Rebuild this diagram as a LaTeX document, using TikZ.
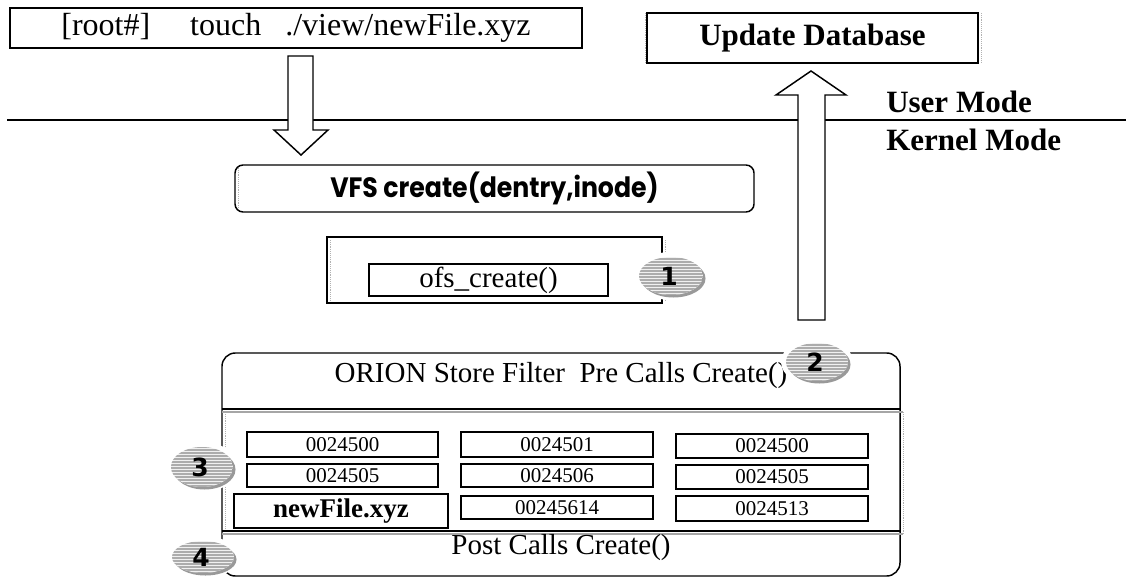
\documentclass[tikz,border=0pt]{standalone}
\usepackage{fontspec}
\setmainfont{Liberation Serif}
\newfontfamily\badgefont{DejaVu Sans}
\newfontfamily\gothicfont{Poppins}
\usetikzlibrary{fit}
\newcommand\px[1]{\fontsize{\fpeval{#1*0.75}pt}{\fpeval{#1*0.9}pt}\selectfont}
\newcommand\mybadge[6]{%
  \fill[white] (#2,#3) ellipse [x radius=#4+5, y radius=#5+5];
  \fill[gray!80] (#2+2.5,#3+2.5) ellipse [x radius=#4, y radius=#5];
  \begin{scope}
    \clip (#2,#3) ellipse [x radius=#4, y radius=#5];
    \fill[gray!12] (#2-#4,#3-#5) rectangle (#2+#4,#3+#5);
    \foreach \k in {-20,-17,...,20} {\draw[gray!65, line width=1.1pt] (#2-#4,#3+\k) -- (#2+#4,#3+\k);}
  \end{scope}
  \node[font=\badgefont\bfseries\px{25}, inner sep=0pt] (#1) at (#2-2,#3) {#6};
}
\begin{document}
\begin{tikzpicture}[x=0.75pt,y=-0.75pt,
  box/.style={draw, line width=1.1pt, inner sep=0pt},
  txt/.style={inner sep=0pt},
  celltxt/.style={inner sep=0pt, font=\px{21}},
  blockarrow/.style={draw, line width=1.1pt, fill=white, line join=miter}]
\useasboundingbox (0,0) rectangle (1126,577);

% mode separator
\draw[line width=1pt] (7,120) -- (1126,120);
\node[anchor=west, font=\bfseries\px{31}, txt] (user) at (886,102) {User Mode};
\node[anchor=west, font=\bfseries\px{31}, txt] (kernel) at (886,140) {Kernel Mode};

% command box
\node[box, fit={(10,8) (582,48)}] (cmd) {};
\node[txt, font=\px{32}] (cmdt) at (cmd.center) {[root\#]\ \ \ \ \ touch\ \ \ ./view/newFile.xyz};
% update database
\draw[gray!60, densely dotted] (645,13) -- (645,63) (981,13) -- (981,63);
\node[box, fit={(647,13) (978,63)}] (upd) {};
\node[txt, font=\bfseries\px{31}] (updt) at (upd.center) {Update Database};

% VFS box
\draw[gray!60, densely dotted] (238,168) -- (238,208);
\node[box, rounded corners=6pt, fit={(235,165) (754,212)}] (vfs) {};
\node[txt, font=\gothicfont\bfseries\px{28}] (vfst) at (vfs.center) {\scalebox{0.9}[1]{VFS create(dentry,inode)}};

% ofs box
\draw[gray!60, densely dotted] (330,240) -- (330,300) (665,240) -- (665,300);
\node[box, fit={(327,237) (662,303)}] (ofsouter) {};
\node[box, fit={(369,264) (608,296)}] (ofs) {};
\node[txt, font=\px{29}] (ofst) at (ofs.center) {ofs\_create()};

% down arrow
\draw[blockarrow] (288,56) -- (313,56) -- (313,130) -- (328,130) -- (301,155) -- (274,130) -- (288,130) -- cycle;
% up arrow
\draw[blockarrow] (798,320) -- (798,95) -- (776,95) -- (811,71) -- (846,95) -- (825,95) -- (825,320) -- cycle;

% ORION box
\node[box, rounded corners=10pt, fit={(222,353) (900,576)}] (orion) {};
\node[txt, font=\px{29}] (pre) at (561,376) {ORION Store Filter\ \ Pre Calls Create()};
\draw[line width=1.1pt] (222,409) -- (900,409);
\draw[gray!70, line width=0.8pt] (222,412) -- (903,412);
\draw[gray!60, densely dotted] (225,414) -- (225,530) (903,412) -- (903,534);
\draw[line width=1.1pt] (222,531) -- (900,531);
\draw[gray!70, line width=0.8pt] (222,534) -- (903,534);
\node[txt, font=\px{29}] (post) at (561,548) {Post Calls Create()};

% grid cells
\node[box, fit={(247,432) (438,457)}] (c11) {};
\node[celltxt] at (c11.center) (c11t) {0024500};
\node[box, fit={(247,464) (438,487)}] (c21) {};
\node[celltxt] at (c21.center) (c21t) {0024505};
\node[box, fit={(234,494) (448,528)}] (c31) {};
\node[txt, font=\bfseries\px{27}] at (c31.center) (c31t) {newFile.xyz};
\node[box, fit={(461,432) (653,457)}] (c12) {};
\node[celltxt] at (c12.center) (c12t) {0024501};
\node[box, fit={(461,464) (653,487)}] (c22) {};
\node[celltxt] at (c22.center) (c22t) {0024506};
\node[box, fit={(461,496) (653,519)}] (c32) {};
\node[celltxt] at (c32.center) (c32t) {00245614};
\node[box, fit={(676,434) (868,458)}] (c13) {};
\node[celltxt] at (c13.center) (c13t) {0024500};
\node[box, fit={(676,465) (868,489)}] (c23) {};
\node[celltxt] at (c23.center) (c23t) {0024505};
\node[box, fit={(676,496) (868,521)}] (c33) {};
\node[celltxt] at (c33.center) (c33t) {0024513};

% badges
\mybadge{b1}{671}{276}{32}{19}{1}
\mybadge{b2}{817}{362}{31}{19}{2}
\mybadge{b3}{202}{467}{31}{20}{3}
\mybadge{b4}{203}{557}{31}{16}{4}
\end{tikzpicture}
\end{document}
